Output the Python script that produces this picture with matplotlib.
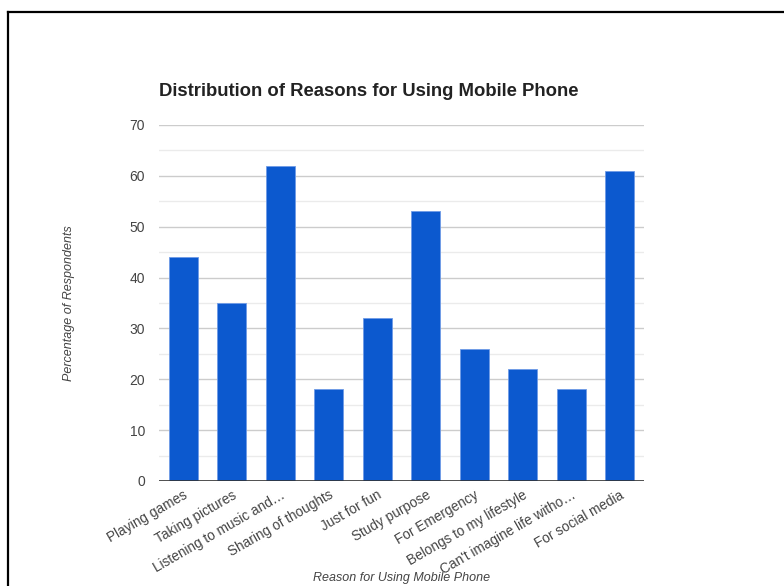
import matplotlib
matplotlib.use("Agg")
import matplotlib.pyplot as plt
from matplotlib.lines import Line2D

plt.rcParams['font.family'] = ['Liberation Sans', 'DejaVu Sans']

categories = ["Playing games", "Taking pictures", "Listening to music and\u2026",
              "Sharing of thoughts", "Just for fun", "Study purpose", "For Emergency",
              "Belongs to my lifestyle", "Can't imagine life witho\u2026", "For social media"]
values = [44, 35, 62, 18, 32, 53, 26, 22, 18, 61]
yticks = [0, 10, 20, 30, 40, 50, 60, 70]

fig = plt.figure(figsize=(7.84, 5.86), dpi=100)
ax = fig.add_axes([159/784, 1-481/586, (644-159)/784, (481-125)/586])

x = list(range(len(categories)))
ax.bar(x, values, width=0.6, color='#0c59cf', edgecolor='#6f9be6', linewidth=0.6, zorder=3)

ax.set_xlim(-0.5, len(categories) - 0.5)
ax.set_ylim(0, 70)
ax.set_yticks(yticks)
ax.set_yticks([5, 15, 25, 35, 45, 55, 65], minor=True)
ax.grid(axis='y', which='major', color='#cccccc', linewidth=1, zorder=0)
ax.grid(axis='y', which='minor', color='#ebebeb', linewidth=1, zorder=0)
ax.axhline(0, color='#333333', linewidth=1.2, zorder=4)

for s in ax.spines.values():
    s.set_visible(False)
ax.tick_params(axis='both', length=0)
ax.tick_params(axis='y', which='major', pad=10, labelsize=10, labelcolor='#444444')
ax.tick_params(axis='y', which='minor', length=0)
ax.set_xticks(x)
ax.set_xticklabels(categories, rotation=30, ha='right', rotation_mode='anchor',
                   fontsize=9.8, color='#444444')
ax.tick_params(axis='x', pad=5)

ax.set_ylabel("Percentage of Respondents", fontstyle='italic', fontsize=9,
              color='#444444')
ax.yaxis.set_label_coords((75 - 159) / 485, 0.5)
ax.set_xlabel("Reason for Using Mobile Phone", fontstyle='italic', fontsize=9,
              color='#444444')
ax.xaxis.set_label_coords(0.5, (481 - 572) / 356)

fig.text(159/784, 1-91/586, "Distribution of Reasons for Using Mobile Phone",
         fontsize=13.3, fontweight='bold', color='#222222', ha='left', va='center')

fig.add_artist(Line2D([8/784, 1.0], [1-12/586, 1-12/586], color='black', linewidth=1.6,
                      transform=fig.transFigure))
fig.add_artist(Line2D([8/784, 8/784], [0, 1-12/586], color='black', linewidth=1.6,
                      transform=fig.transFigure))

fig.savefig("out.png", dpi=100)
